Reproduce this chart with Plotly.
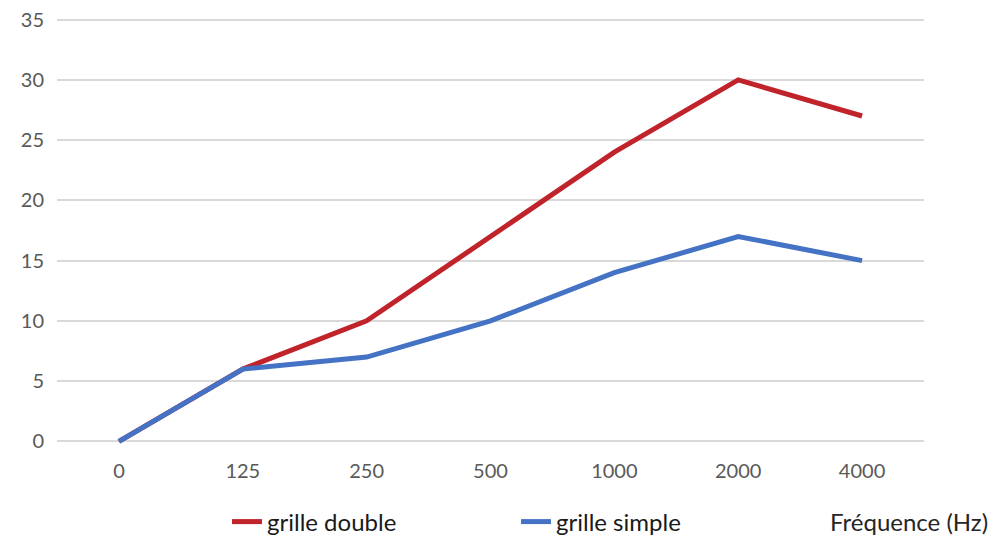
import plotly.graph_objects as go

categories = ["0", "125", "250", "500", "1000", "2000", "4000"]
grille_double = [0, 6, 10, 17, 24, 30, 27]
grille_simple = [0, 6, 7, 10, 14, 17, 15]
y_ticks = [0, 5, 10, 15, 20, 25, 30, 35]

FONT = "Lato, Carlito, Calibri, sans-serif"

fig = go.Figure()
fig.add_trace(go.Scatter(x=categories, y=grille_double, mode="lines", name="grille double",
                         line=dict(color="#C1232B", width=5)))
fig.add_trace(go.Scatter(x=categories, y=grille_simple, mode="lines", name="grille simple",
                         line=dict(color="#4472C4", width=5)))

fig.update_layout(
    width=1000, height=535,
    margin=dict(l=57, r=76, t=16, b=90, autoexpand=False),
    plot_bgcolor="white", paper_bgcolor="white",
    font=dict(family=FONT, size=20, color="#595959"),
    showlegend=True,
    legend=dict(orientation="h", xref="container", yref="container",
                x=0.227, xanchor="left", y=1 - 522/535, yanchor="middle",
                font=dict(size=24, color="#1a1a1a"), entrywidth=244, entrywidthmode="pixels",
                bgcolor="rgba(0,0,0,0)"),
    xaxis=dict(type="category", categoryorder="array", categoryarray=categories,
               range=[-0.5, 6.5], automargin=False,
               showgrid=False, showline=False, zeroline=False,
               ticks="", ticklabelstandoff=12, tickfont=dict(size=20, color="#595959")),
    yaxis=dict(range=[-0.3, 35.3], tickvals=y_ticks, showgrid=True, gridcolor="#D9D9D9",
               gridwidth=1.5, zeroline=False, showline=False, ticks="", automargin=False,
               ticklabelstandoff=12, tickfont=dict(size=20, color="#595959")),
    annotations=[dict(text="Fréquence (Hz)", xref="paper", yref="paper", x=1.0 + 66/867,
                      xanchor="right", y=-(521 - 444.6) / 428.4, yanchor="middle", showarrow=False,
                      font=dict(size=24, color="#262626"))],
)

fig.write_html("out.html", config={"displayModeBar": False},
               post_script="document.body.style.margin='0';document.body.style.overflow='hidden';")
